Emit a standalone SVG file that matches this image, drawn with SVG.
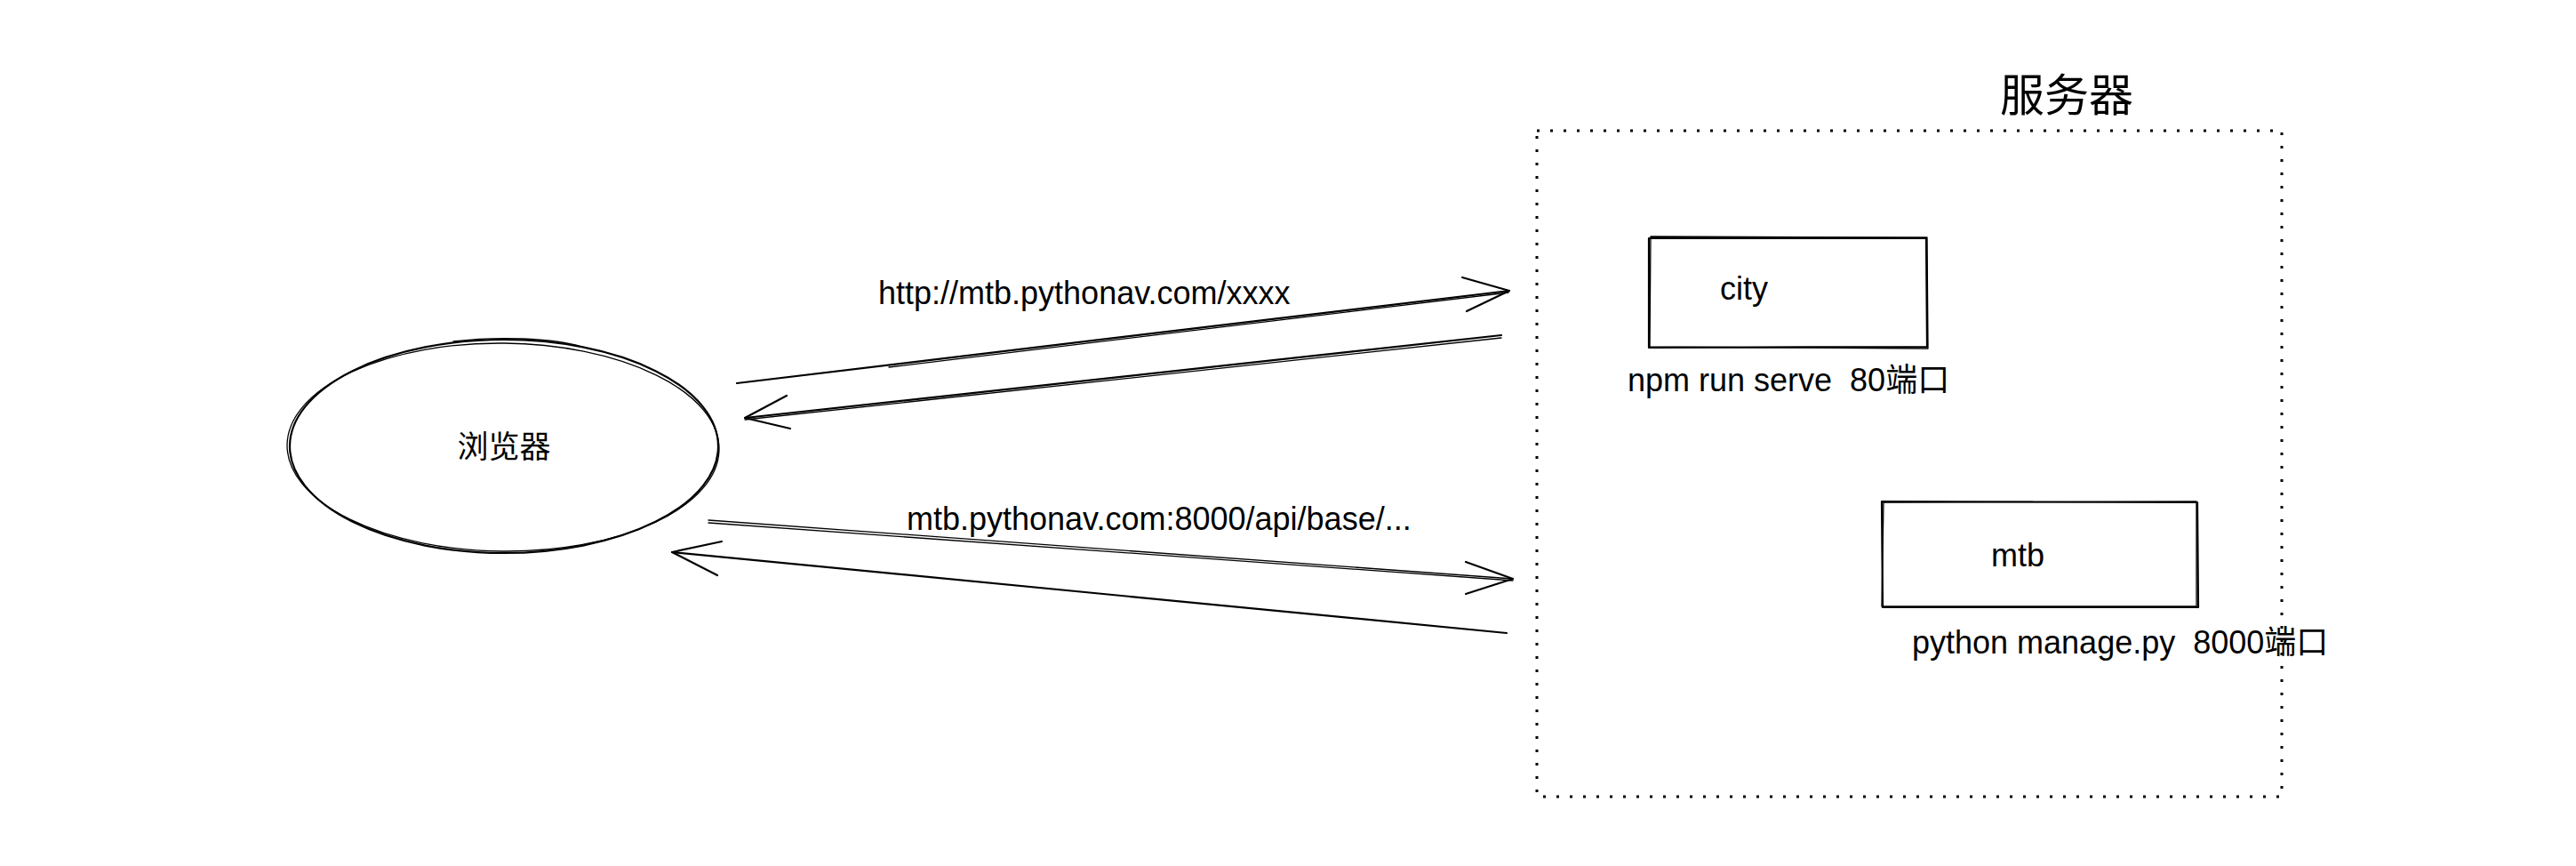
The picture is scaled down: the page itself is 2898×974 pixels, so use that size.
<svg xmlns="http://www.w3.org/2000/svg" width="2898" height="974" viewBox="0 0 2898 974">
<style>
.s{fill:none;stroke:#000;stroke-linecap:round;stroke-linejoin:round}
.s1{stroke-width:2.2}
.s2{stroke-width:1.3}
.t{font-family:"Liberation Sans",Arial,"Noto Sans CJK SC",sans-serif;font-size:36px;fill:#000;white-space:pre}
.c{font-family:"Noto Sans CJK SC","Liberation Sans",sans-serif;fill:#000}
.dot{fill:none;stroke:#000;stroke-width:3;stroke-dasharray:3 12}
</style>
<rect width="2898" height="974" fill="#fff"/>
<g id="server">
<rect class="dot" x="1729" y="147" width="838" height="749"/>
<text class="c" x="2325" y="124.5" font-size="50" text-anchor="middle">服务器</text>
</g>
<g id="browser">
<ellipse class="s s1" cx="567" cy="502" rx="241" ry="120"/>
<ellipse class="s s2" cx="566" cy="503" rx="243" ry="117" transform="rotate(0.6 566 503)"/>
<path class="s s2" d="M510 384 C560 378 620 380 655 390"/>
<text class="c" x="567" y="514.5" font-size="35" text-anchor="middle">浏览器</text>
</g>
<g id="city">
<path class="s s1" d="M1855 268 L2167 268 L2168 390 L1855 391 Z"/>
<path class="s s2" d="M1857 266 L2168 267 L2169 392 L1856 390 Z"/>
<text class="t" x="1962" y="337" text-anchor="middle">city</text>
<text class="t" x="1831" y="440" xml:space="preserve">npm run serve  80端口</text>
</g>
<g id="mtb">
<path class="s s1" d="M2117 564 L2472 565 L2473 683 L2118 683 Z"/>
<path class="s s2" d="M2119 565 L2471 564 L2471 682 L2117 682 Z"/>
<text class="t" x="2270" y="637" text-anchor="middle">mtb</text>
<text class="t" x="2151" y="735" xml:space="preserve">python manage.py  8000端口</text>
</g>
<g id="connectors">
<path class="s s1" d="M829 431 L1698 327"/>
<path class="s s2" d="M1000 413 L1697 329"/>
<path class="s s1" d="M1645 312 L1698 327 L1650 350"/>
<path class="s s1" d="M1689 377 L838 470"/>
<path class="s s2" d="M1689 380 L838 472"/>
<path class="s s1" d="M885 445 L838 470 L889 482"/>
<path class="s s2" d="M797 585 L1702 651"/>
<path class="s s2" d="M797 588 L1702 653"/>
<path class="s s1" d="M1649 632 L1702 651 L1649 668"/>
<path class="s s1" d="M1695 712 L756 621"/>
<path class="s s1" d="M812 609 L756 621 L807 647"/>
<text class="t" x="988" y="342">http://mtb.pythonav.com/xxxx</text>
<text class="t" x="1020" y="596">mtb.pythonav.com:8000/api/base/...</text>
</g>
</svg>
